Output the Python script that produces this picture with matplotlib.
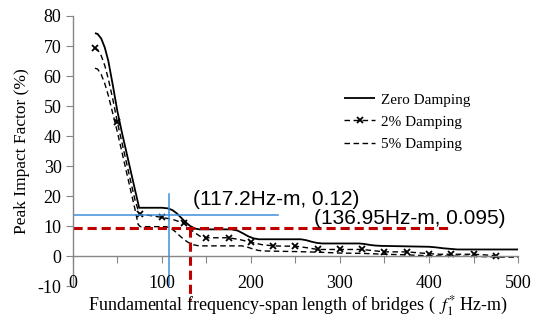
import matplotlib
matplotlib.use('Agg')
import matplotlib.pyplot as plt
from matplotlib.transforms import blended_transform_factory

# ---------------- data ----------------
zero_x = [25, 28, 32, 36, 40, 45, 50, 55, 60, 65, 70, 74.6, 100, 107, 112, 117, 122, 127,
          132, 137, 142, 178, 185, 191, 197, 203, 209, 256, 262, 268, 274, 280, 322, 328,
          334, 340, 346, 400, 408, 416, 424, 432, 500]
zero_y = [74.3, 74.0, 72.5, 69.5, 65.0, 57.0, 48.5, 41.5, 35.0, 28.5, 22.0, 16.1, 16.1, 15.9,
          15.3, 14.2, 12.7, 11.2, 10.0, 9.2, 8.9, 8.9, 8.5, 7.6, 6.6, 5.9, 5.6, 5.6, 5.3, 4.8,
          4.4, 4.2, 4.2, 4.0, 3.7, 3.5, 3.4, 3.1, 2.9, 2.6, 2.4, 2.2, 2.2]

d2_x = [25, 28, 32, 36, 40, 45, 50, 55, 60, 65, 70, 75, 87.5, 100, 112.5, 125, 131, 137.5,
        143, 150, 162.5, 175, 187.5, 200, 212.5, 225, 237.5, 250, 262.5, 275, 287.5, 300,
        312.5, 325, 337.5, 350, 362.5, 375, 387.5, 400, 412.5, 425, 437.5, 450, 462.5, 475]
d2_y = [69.2, 68.8, 66.8, 63.5, 59.0, 52.3, 44.8, 38.2, 31.6, 25.0, 18.6, 13.9, 13.5, 12.9,
        12.2, 10.9, 9.2, 7.7, 6.6, 6.1, 6.1, 6.1, 5.5, 4.6, 3.8, 3.4, 3.3, 3.3, 2.8, 2.2, 2.2,
        2.2, 2.2, 2.2, 1.8, 1.4, 1.4, 1.4, 1.1, 0.8, 0.6, 0.6, 0.6, 0.6, 0.4, 0.1]
d2_marker_step = 25

d5_x = [25, 28, 32, 36, 40, 45, 50, 55, 60, 65, 70, 73.5, 76, 105, 110, 115, 120, 125, 130,
        135, 140, 145, 190, 196, 202, 208, 214, 250, 275, 300, 325, 350, 375, 400, 425, 450,
        475, 500]
d5_y = [62.6, 62.3, 60.5, 57.5, 53.5, 47.5, 41.5, 35.0, 28.5, 22.0, 15.5, 10.5, 9.8, 9.8,
        9.3, 8.2, 6.8, 5.5, 4.5, 3.8, 3.5, 3.4, 3.4, 3.0, 2.4, 1.9, 1.7, 1.5, 1.3, 1.0, 0.9,
        0.6, 0.4, 0.1, 0.0, -0.1, -0.3, -0.4]

series_labels = ['Zero Damping', '2% Damping', '5% Damping']

# reference lines
blue_x = 108
blue_x_top = 20.7
blue_y = 13.6
blue_y_end = 230
red_y = 9.2
red_x = 132
red_y_end = 423
red_x_bottom = -14.5

annot1 = '(117.2Hz-m, 0.12)'
annot1_pos = (135, 19.0)
annot2 = '(136.95Hz-m, 0.095)'
annot2_pos = (271, 12.6)

x_ticks_major = [0, 100, 200, 300, 400, 500]
x_ticks_minor = [50, 150, 250, 350, 450]
y_ticks = [-10, 0, 10, 20, 30, 40, 50, 60, 70, 80]

xlabel = r'Fundamental frequency-span length of bridges ( $\,f_1^{*}$ Hz-m)'
ylabel = 'Peak Impact Factor (%)'

# ---------------- figure ----------------
plt.rcParams['font.family'] = ['Liberation Serif', 'DejaVu Serif']
plt.rcParams['mathtext.fontset'] = 'stix'

fig = plt.figure(figsize=(5.39, 3.20), dpi=100)
ax = fig.add_axes([0.1349, 0.106, 0.8262, 0.844])

axis_grey = '#868686'

ax.plot(zero_x, zero_y, color='black', lw=1.3, solid_capstyle='butt', label=series_labels[0])
mk = [i for i, v in enumerate(d2_x) if v % d2_marker_step == 0]
ax.plot(d2_x, d2_y, color='black', lw=1.0, dashes=(4, 2.5), marker='x', markersize=5,
        markeredgewidth=1.3, markevery=mk, label=series_labels[1])
ax.plot(d5_x, d5_y, color='black', lw=1.0, dashes=(4, 2.5), label=series_labels[2])

# reference lines
blue = '#3d8fdb'
red = '#c00000'
ax.plot([blue_x, blue_x], [-10, blue_x_top], color=blue, lw=1.1)
ax.plot([0, blue_y_end], [blue_y, blue_y], color=blue, lw=1.1)
ax.plot([0, red_y_end], [red_y, red_y], color=red, lw=2.2, dashes=(3.0, 1.6))
ax.plot([red_x, red_x], [red_y, red_x_bottom], color=red, lw=2.2, dashes=(3.0, 1.6),
        clip_on=False)

ax.text(*annot1_pos, annot1, family=['Liberation Sans'], fontsize=15, va='center', ha='left')
ax.text(*annot2_pos, annot2, family=['Liberation Sans'], fontsize=15, va='center', ha='left')

ax.set_xlim(0, 500)
ax.set_ylim(-10, 80)

for s in ['top', 'right']:
    ax.spines[s].set_visible(False)
ax.spines['bottom'].set_position(('data', 0))
for s in ['left', 'bottom']:
    ax.spines[s].set_color(axis_grey)
    ax.spines[s].set_linewidth(1.0)

ax.set_xticks(x_ticks_major + x_ticks_minor)
ax.tick_params(axis='x', direction='out', length=5, color=axis_grey, labelbottom=False)
ax.set_yticks(y_ticks)
ax.set_yticklabels([str(v) for v in y_ticks])
ax.tick_params(axis='y', direction='out', length=5, color=axis_grey, labelsize=13, pad=3)

trans = blended_transform_factory(ax.transData, ax.transAxes)
for v in x_ticks_major:
    ax.text(v, 0.01, str(v), transform=trans, ha='center', va='center', fontsize=13)

ax.set_ylabel(ylabel, fontsize=12.5, labelpad=4)
ax.yaxis.set_label_coords(-0.095, 0.5)
fig.text(0.552, 0.045, xlabel, ha='center', va='center', fontsize=13)

leg = ax.legend(loc='upper left', bbox_to_anchor=(0.61, 0.715), frameon=False, fontsize=11,
                handlelength=2.0, handletextpad=0.4, labelspacing=0.55, borderpad=0,
                borderaxespad=0)

fig.savefig('out.png', dpi=100)
